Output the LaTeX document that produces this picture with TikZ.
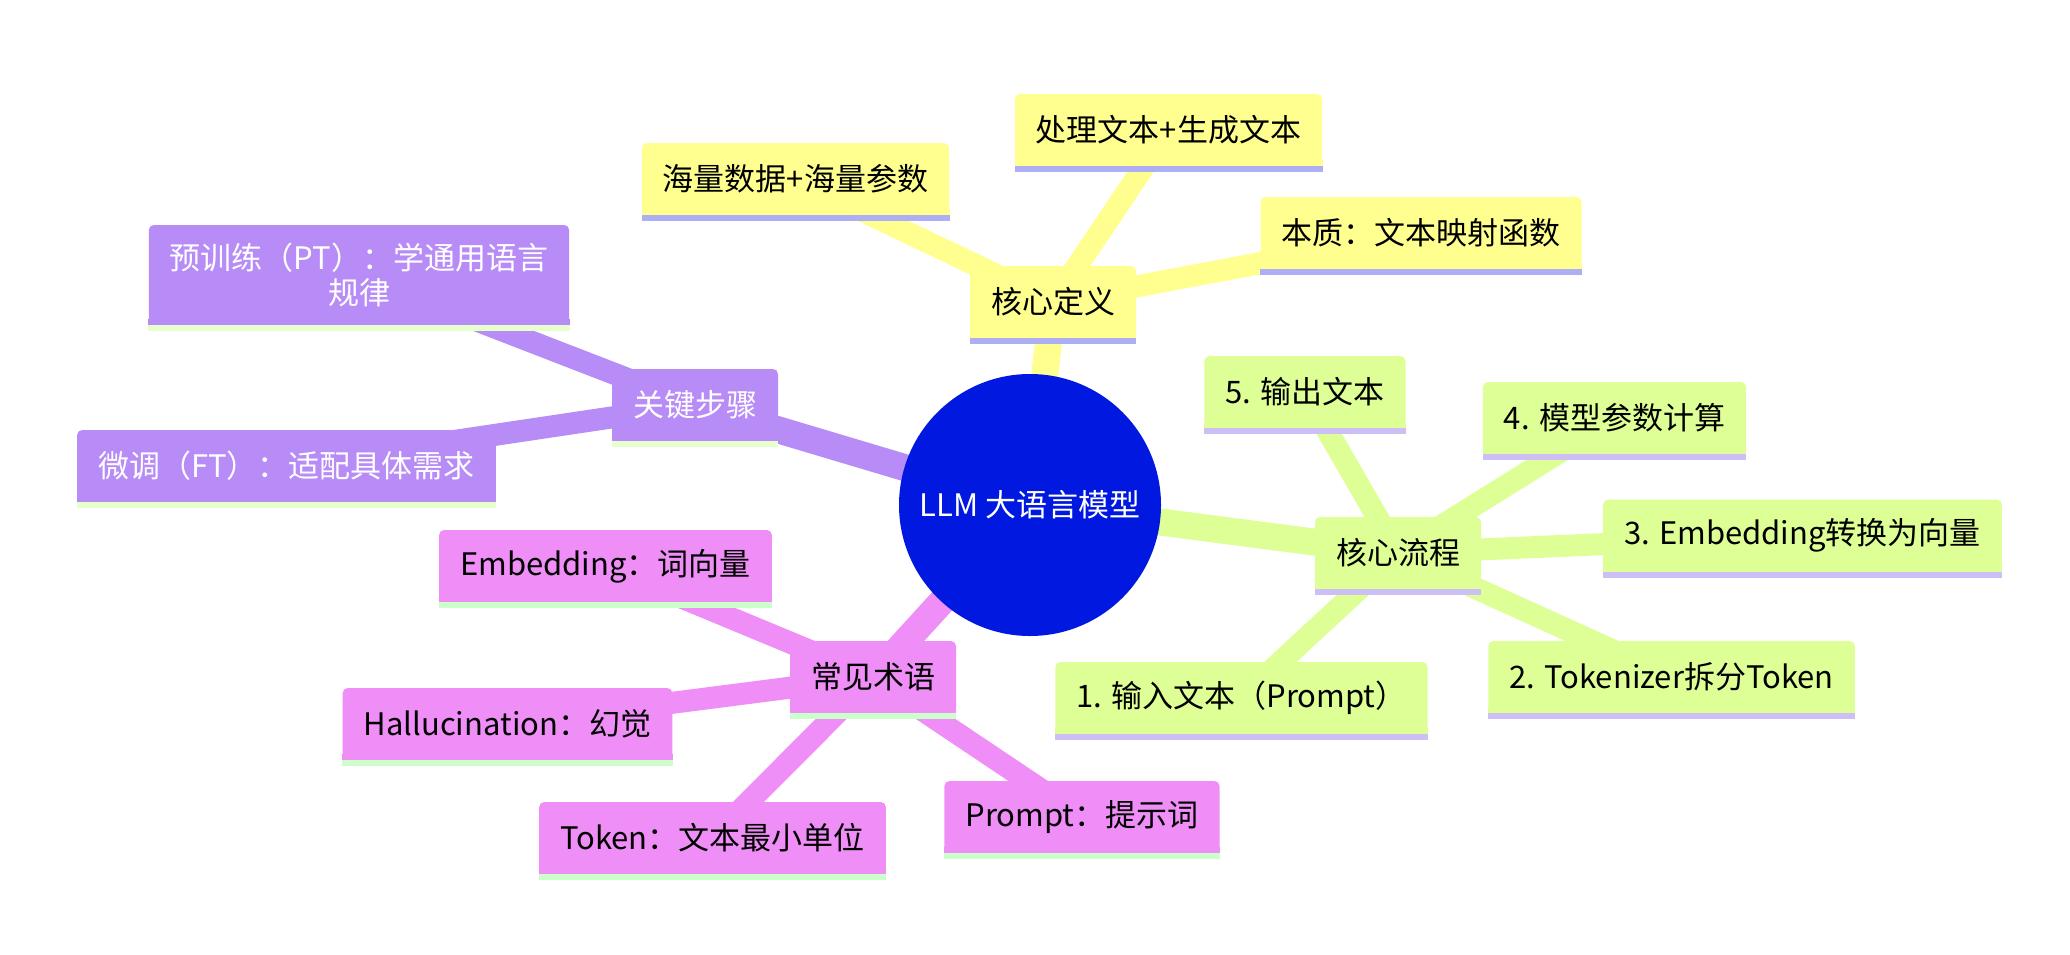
\documentclass[tikz,border=0pt]{standalone}
\usepackage{fontspec}
\setmainfont{Noto Sans CJK SC}
\usetikzlibrary{positioning}
\definecolor{rootblue}{HTML}{0018E0}
\definecolor{yellowbox}{HTML}{FFFF90}
\definecolor{yellowline}{HTML}{AEAEF5}
\definecolor{greenbox}{HTML}{DEFF96}
\definecolor{greenline}{HTML}{CDBEF5}
\definecolor{purplebox}{HTML}{B88CF6}
\definecolor{purpleline}{HTML}{E6FFCC}
\definecolor{pinkbox}{HTML}{EF8EF6}
\definecolor{pinkline}{HTML}{CCFFCC}
\pgfdeclarelayer{back}
\pgfsetlayers{back,main}

\begin{document}
\begin{tikzpicture}[x=0.5pt,y=-0.5pt,font=\fontsize{15.5pt}{17.5pt}\selectfont,
                    root node/.style={circle,fill=rootblue,text=white,minimum size=131pt,inner sep=0pt},
                    main node/.style={rectangle,rounded corners=2.5pt,minimum height=36pt,
                                      inner xsep=10.5pt,inner ysep=9pt,align=center},
                    root edge/.style={line width=13.5pt},
                    leaf edge/.style={line width=11pt}]
\useasboundingbox (0,0) rectangle (2070,954);

\node[root node] (0) at (1030,505) {LLM 大语言模型};

\node[main node,fill=yellowbox] (1) at (1053,302) {核心定义};
\node[main node,fill=yellowbox] (2) at (795.5,179) {海量数据+海量参数};
\node[main node,fill=yellowbox] (3) at (1168.5,130) {处理文本+生成文本};
\node[main node,fill=yellowbox] (4) at (1421,233) {本质：文本映射函数};

\node[main node,fill=purplebox,text=white] (5) at (695,405) {关键步骤};
\node[main node,fill=purplebox,text=white] (6) at (359,275) {预训练（PT）：学通用语言\\规律};
\node[main node,fill=purplebox,text=white] (7) at (286.5,466) {微调（FT）：适配具体需求};

\node[main node,fill=greenbox] (8) at (1398,553) {核心流程};
\node[main node,fill=greenbox] (9) at (1305,392) {5. 输出文本};
\node[main node,fill=greenbox] (10) at (1614.5,418) {4. 模型参数计算};
\node[main node,fill=greenbox] (11) at (1802.5,535.5) {3. Embedding转换为向量};
\node[main node,fill=greenbox] (12) at (1671.5,677) {2. Tokenizer拆分Token};
\node[main node,fill=greenbox] (13) at (1241.5,698) {1. 输入文本（Prompt）};

\node[main node,fill=pinkbox] (14) at (873,677) {常见术语};
\node[main node,fill=pinkbox] (15) at (605.5,566) {Embedding：词向量};
\node[main node,fill=pinkbox] (16) at (507.5,724) {Hallucination：幻觉};
\node[main node,fill=pinkbox] (17) at (712.5,838) {Token：文本最小单位};
\node[main node,fill=pinkbox] (18) at (1082,817) {Prompt：提示词};

% square bottom corners and the strip under each box
\foreach \n/\c/\u in {1/yellowbox/yellowline,2/yellowbox/yellowline,3/yellowbox/yellowline,
                      4/yellowbox/yellowline,5/purplebox/purpleline,6/purplebox/purpleline,
                      7/purplebox/purpleline,8/greenbox/greenline,9/greenbox/greenline,
                      10/greenbox/greenline,11/greenbox/greenline,12/greenbox/greenline,
                      13/greenbox/greenline,14/pinkbox/pinkline,15/pinkbox/pinkline,
                      16/pinkbox/pinkline,17/pinkbox/pinkline,18/pinkbox/pinkline}{
  \fill[\c] ([yshift=3pt]\n.south west) rectangle (\n.south east);
  \fill[\u] (\n.south west) rectangle ([yshift=-3pt]\n.south east);
}

\begin{pgfonlayer}{back}
\path[root edge]
  (0.center) edge[draw=yellowbox] (1.center)
             edge[draw=purplebox] (5.center)
             edge[draw=greenbox] (8.center)
             edge[draw=pinkbox] (14.center);

\path[leaf edge]
  (1.center) edge[draw=yellowbox] (2.center)
             edge[draw=yellowbox] (3.center)
             edge[draw=yellowbox] (4.center)
  (5.center) edge[draw=purplebox] (6.center)
             edge[draw=purplebox] (7.center)
  (8.center) edge[draw=greenbox] (9.center)
             edge[draw=greenbox] (10.center)
             edge[draw=greenbox] (11.center)
             edge[draw=greenbox] (12.center)
             edge[draw=greenbox] (13.center)
  (14.center) edge[draw=pinkbox] (15.center)
              edge[draw=pinkbox] (16.center)
              edge[draw=pinkbox] (17.center)
              edge[draw=pinkbox] (18.center);
\end{pgfonlayer}
\end{tikzpicture}
\end{document}
